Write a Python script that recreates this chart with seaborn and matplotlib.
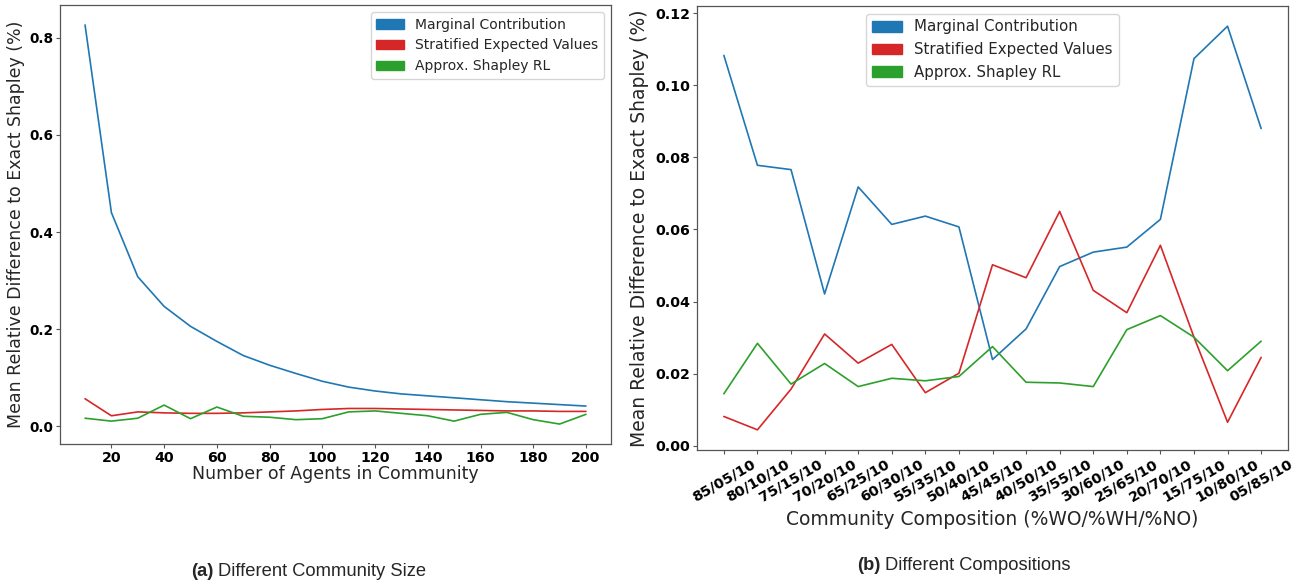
import matplotlib
matplotlib.use("Agg")
import matplotlib.pyplot as plt
import seaborn as sns
import pandas as pd
from matplotlib.patches import Patch

# ---- data: (a) community size ----
sizes = [10, 20, 30, 40, 50, 60, 70, 80, 90, 100, 110, 120, 130, 140, 150, 160, 170, 180, 190, 200]
size_marginal = [0.826, 0.440, 0.308, 0.247, 0.206, 0.175, 0.146, 0.126, 0.109, 0.093,
                 0.081, 0.073, 0.067, 0.063, 0.059, 0.055, 0.051, 0.048, 0.045, 0.042]
size_stratified = [0.057, 0.022, 0.030, 0.028, 0.027, 0.027, 0.028, 0.030, 0.032, 0.035,
                   0.037, 0.037, 0.036, 0.035, 0.034, 0.033, 0.032, 0.032, 0.031, 0.031]
size_approx = [0.017, 0.011, 0.017, 0.044, 0.016, 0.040, 0.021, 0.019, 0.014, 0.016,
               0.030, 0.032, 0.027, 0.022, 0.011, 0.025, 0.029, 0.014, 0.005, 0.025]

# ---- data: (b) compositions ----
compositions = ["85/05/10", "80/10/10", "75/15/10", "70/20/10", "65/25/10", "60/30/10",
                "55/35/10", "50/40/10", "45/45/10", "40/50/10", "35/55/10", "30/60/10",
                "25/65/10", "20/70/10", "15/75/10", "10/80/10", "05/85/10"]
comp_marginal = [0.1083, 0.0778, 0.0766, 0.0421, 0.0718, 0.0614, 0.0637, 0.0607, 0.0239,
                 0.0324, 0.0497, 0.0537, 0.0551, 0.0628, 0.1074, 0.1164, 0.0880]
comp_stratified = [0.0081, 0.0044, 0.0157, 0.0310, 0.0229, 0.0281, 0.0147, 0.0201, 0.0502,
                   0.0466, 0.0650, 0.0431, 0.0369, 0.0556, 0.0301, 0.0065, 0.0245]
comp_approx = [0.0144, 0.0284, 0.0171, 0.0228, 0.0164, 0.0187, 0.0180, 0.0192, 0.0275,
               0.0176, 0.0174, 0.0164, 0.0322, 0.0361, 0.0301, 0.0208, 0.0290]

series_names = ["Marginal Contribution", "Stratified Expected Values", "Approx. Shapley RL"]
colors = ["#1f77b4", "#d62728", "#2ca02c"]

sns.set_style("ticks")
plt.rcParams["font.family"] = ["DejaVu Sans"]

fig = plt.figure(figsize=(12.99, 5.81), dpi=100)
W, H = 1299, 581
ax1 = fig.add_axes([60 / W, 1 - 444 / H, (611 - 60) / W, (444 - 5) / H])
ax2 = fig.add_axes([697 / W, 1 - 450 / H, (1288 - 697) / W, (450 - 6) / H])

df_a = pd.DataFrame({"x": sizes * 3,
                     "y": size_marginal + size_stratified + size_approx,
                     "s": sum([[n] * len(sizes) for n in series_names], [])})
sns.lineplot(data=df_a, x="x", y="y", hue="s", palette=colors, ax=ax1,
             linewidth=1.2, legend=False)

pos = list(range(len(compositions)))
df_b = pd.DataFrame({"x": pos * 3,
                     "y": comp_marginal + comp_stratified + comp_approx,
                     "s": sum([[n] * len(pos) for n in series_names], [])})
sns.lineplot(data=df_b, x="x", y="y", hue="s", palette=colors, ax=ax2,
             linewidth=1.2, legend=False)

for ax in (ax1, ax2):
    for sp in ax.spines.values():
        sp.set_visible(True)
        sp.set_color("#555555")
        sp.set_linewidth(0.9)
    ax.tick_params(colors="#555555", labelcolor="black", length=3, width=0.8, pad=2)

# Left axes
ax1.set_xticks([20, 40, 60, 80, 100, 120, 140, 160, 180, 200])
ax1.set_yticks([0.0, 0.2, 0.4, 0.6, 0.8])
ax1.set_yticklabels(["0.0", "0.2", "0.4", "0.6", "0.8"])
for lab in ax1.get_xticklabels():
    lab.set_fontweight("bold")
    lab.set_fontsize(10.2)
for lab in ax1.get_yticklabels():
    lab.set_fontweight("bold")
    lab.set_fontsize(9.8)
ax1.set_xlabel("Number of Agents in Community", fontsize=12.5, labelpad=0)
ax1.set_ylabel("Mean Relative Difference to Exact Shapley (%)", fontsize=12.5, labelpad=3)
handles = [Patch(facecolor=c, edgecolor=c, label=n) for c, n in zip(colors, series_names)]
ax1.legend(handles=handles, loc="upper right", fontsize=10, frameon=True,
           borderaxespad=0.5)

# Right axes
ax2.set_xticks(pos)
ax2.set_xticklabels(compositions, rotation=30, ha="center",
                    fontweight="bold", fontsize=10.4)
ax2.set_yticks([0.0, 0.02, 0.04, 0.06, 0.08, 0.10, 0.12])
ax2.set_yticklabels(["0.00", "0.02", "0.04", "0.06", "0.08", "0.10", "0.12"],
                    fontweight="bold", fontsize=10.2)
ax2.set_xlabel("Community Composition (%WO/%WH/%NO)", fontsize=13.5, labelpad=4)
ax2.set_ylabel("Mean Relative Difference to Exact Shapley (%)", fontsize=13.5, labelpad=4)
ax2.legend(handles=handles, loc="upper center", fontsize=10.8, frameon=True,
           borderaxespad=0.5)

# Captions
cap_font = ["Liberation Sans", "DejaVu Sans"]
fig.text(214 / W, 1 - 572 / H, "(a)", fontsize=13.2, fontweight="bold",
         family=cap_font, ha="right", va="center")
fig.text(218 / W, 1 - 572 / H, "Different Community Size", fontsize=13.2,
         family=cap_font, ha="left", va="center")
fig.text(881 / W, 1 - 565 / H, "(b)", fontsize=13.2, fontweight="bold",
         family=cap_font, ha="right", va="center")
fig.text(885 / W, 1 - 565 / H, "Different Compositions", fontsize=13.2,
         family=cap_font, ha="left", va="center")

fig.savefig("out.png", dpi=100)
